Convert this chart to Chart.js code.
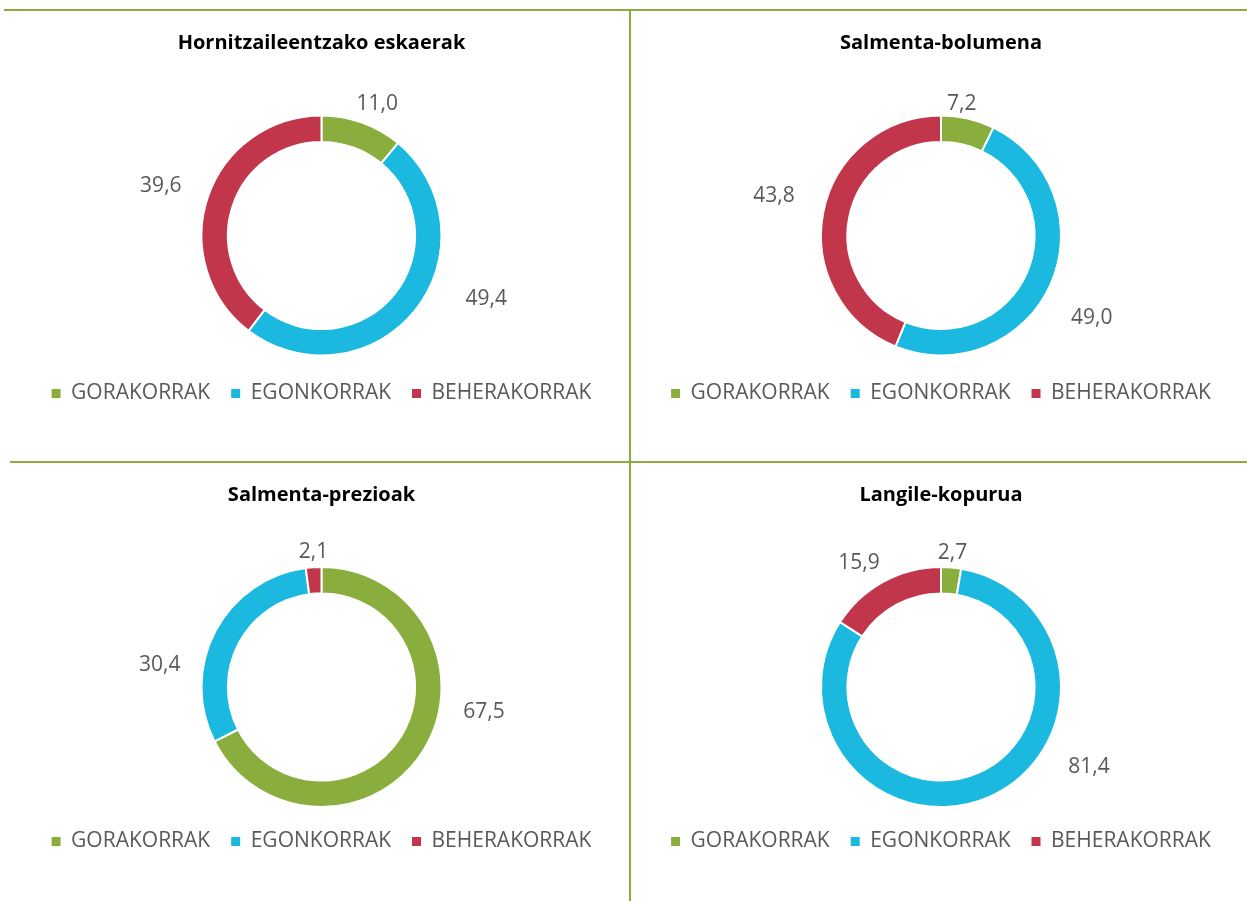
<!DOCTYPE html>
<html>
<head>
<meta charset="utf-8">
<script src="https://cdn.jsdelivr.net/npm/chart.js@4.4.0/dist/chart.umd.min.js"></script>
<style>
html, body { margin: 0; padding: 0; background: #fff; }
body { width: 1247px; height: 901px; position: relative; overflow: hidden; }
.line { position: absolute; background: #8aae3e; }
.box { position: absolute; }
</style>
</head>
<body>
<div class="line" style="left:4px;top:9px;width:1243px;height:2px"></div>
<div class="line" style="left:629px;top:11px;width:2px;height:890px"></div>
<div class="line" style="left:10px;top:461px;width:1237px;height:2px"></div>

<div class="box" style="left:11px;top:12px;width:621px;height:440px"><canvas id="c1"></canvas></div>
<div class="box" style="left:633px;top:12px;width:616px;height:440px"><canvas id="c2"></canvas></div>
<div class="box" style="left:11px;top:464px;width:621px;height:437px"><canvas id="c3"></canvas></div>
<div class="box" style="left:633px;top:464px;width:616px;height:437px"><canvas id="c4"></canvas></div>

<script>
// data
var categories = ['GORAKORRAK', 'EGONKORRAK', 'BEHERAKORRAK'];
var colors = ['#8aae3e', '#1bb9df', '#c2364b'];

var hornitzaileValues = [11.0, 49.4, 39.6];
var bolumenaValues = [7.2, 49.0, 43.8];
var prezioakValues = [67.5, 30.4, 2.1];
var langileValues = [2.7, 81.4, 15.9];

var FONT = "'Open Sans', 'Noto Sans', sans-serif";

function fmt(v) {
    return v.toFixed(1).replace('.', ',');
}

// value labels, placed around the ring (angle from top in degrees, distance in outer radii)
var valueLabels = {
    id: 'valueLabels',
    afterDatasetsDraw: function (chart, args, opts) {
        var ctx = chart.ctx;
        var meta = chart.getDatasetMeta(0);
        var values = chart.data.datasets[0].data;
        ctx.save();
        ctx.font = '21px ' + FONT;
        ctx.fillStyle = '#595959';
        ctx.textAlign = 'center';
        ctx.textBaseline = 'middle';
        meta.data.forEach(function (arc, i) {
            var spot = opts.spots[i];
            var a = (spot[0] - 90) * Math.PI / 180;
            var r = arc.outerRadius * spot[1];
            ctx.fillText(fmt(values[i]), arc.x + r * Math.cos(a), arc.y + r * Math.sin(a));
        });
        ctx.restore();
    }
};

function makeChart(id, title, values, spots, bottomRow) {
    var ctx = document.getElementById(id).getContext('2d');
    return new Chart(ctx, {
        type: 'doughnut',
        data: {
            labels: categories,
            datasets: [{
                data: values,
                backgroundColor: colors,
                borderColor: '#ffffff',
                borderWidth: 2
            }]
        },
        options: {
            responsive: true,
            maintainAspectRatio: false,
            animation: false,
            cutout: '78%',
            radius: 120,
            layout: { padding: { bottom: bottomRow ? 39 : 38 } },
            plugins: {
                title: {
                    display: true,
                    text: title,
                    color: '#000000',
                    font: { family: FONT, size: 20, weight: 'bold' },
                    padding: { top: 19, bottom: bottomRow ? 57 : 54 }
                },
                legend: {
                    position: 'bottom',
                    labels: {
                        boxWidth: 9,
                        boxHeight: 9,
                        padding: 21,
                        color: '#595959',
                        font: { family: FONT, size: 21 },
                        generateLabels: function (chart) {
                            return Chart.overrides.doughnut.plugins.legend.labels.generateLabels(chart).map(function (item) {
                                item.lineWidth = 0;
                                return item;
                            });
                        }
                    }
                },
                tooltip: { enabled: false },
                valueLabels: { spots: spots }
            }
        },
        plugins: [valueLabels]
    });
}

makeChart('c1', 'Hornitzaileentzako eskaerak', hornitzaileValues,
    [[23, 1.19], [111, 1.47], [287, 1.40]], false);
makeChart('c2', 'Salmenta-bolumena', bolumenaValues,
    [[9, 1.11], [118.6, 1.43], [283.4, 1.43]], false);
makeChart('c3', 'Salmenta-prezioak', prezioakValues,
    [[98.8, 1.37], [277.7, 1.36], [356.6, 1.13]], true);
makeChart('c4', 'Langile-kopurua', langileValues,
    [[4.9, 1.12], [118.3, 1.40], [326.6, 1.24]], true);
</script>
</body>
</html>
